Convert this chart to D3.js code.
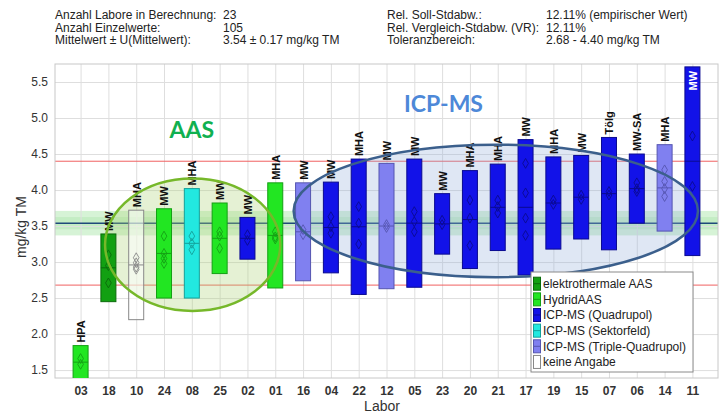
<!DOCTYPE html>
<html>
<head>
<meta charset="utf-8">
<script src="https://cdnjs.cloudflare.com/ajax/libs/d3/7.8.5/d3.min.js"></script>
<style>
  body { margin: 0; background: #fff; }
  text { font-family: "Liberation Sans", Arial, sans-serif; }
  .grid line { stroke: #dedede; }
  .grid path { display: none; }
</style>
</head>
<body>
<div id="chart"></div>
<script>
// labs in plotted order
var labs = ["03","18","10","24","08","25","02","01","16","04","22","12","05","23","20","21","17","19","15","07","06","14","11"];
var labMethod = ["H","E","K","H","S","H","Q","H","T","Q","Q","T","Q","Q","Q","Q","Q","Q","Q","Q","Q","T","Q"];
var labMean = [1.61,2.92,2.96,3.12,3.26,3.33,3.33,3.37,3.42,3.48,3.49,3.50,3.54,3.53,3.59,3.76,3.76,3.82,3.90,3.95,4.02,4.03,4.40];
var labU    = [0.23,0.47,0.76,0.62,0.76,0.49,0.29,0.73,0.68,0.63,0.94,0.87,0.89,0.42,0.68,0.60,0.94,0.64,0.58,0.78,0.48,0.60,1.31];
var labTag  = ["HPA","MW","MHA","MW","MHA","MW","MW","MHA","MW","MW","MHA","MW","MW","MW","MHA","MHA","MW","MHA","MW","Tölg","MW-SA","MHA","MW"];
var labValues = [
  [1.66,1.58],[3.10,2.71,2.95],[3.06,2.99,2.93,2.90],[3.36,3.12,3.05,2.98],
  [3.36,3.26,3.17],[3.42,3.36,3.19],[3.38,3.30],[3.42,3.35,3.32],
  [3.45,3.38],[3.63,3.49,3.40],[3.77,3.54,3.25],[3.52,3.48],
  [3.70,3.56,3.42],[3.58,3.52],[3.86,3.61,3.23],[3.86,3.77,3.68],
  [4.37,3.96,3.61,3.37],[3.86,3.80],[3.93,3.87],[3.98,3.93],
  [4.10,4.02,3.98],[4.28,4.12,4.02,3.91],[4.75,4.05]
];

var methodKeys  = ["E","H","Q","S","T","K"];
var methodNames = ["elektrothermale AAS","HydridAAS","ICP-MS (Quadrupol)","ICP-MS (Sektorfeld)","ICP-MS (Triple-Quadrupol)","keine Angabe"];

var yTicks = [1.5,2.0,2.5,3.0,3.5,4.0,4.5,5.0,5.5];
var meanValue = 3.54, meanU = 0.17, tolLow = 2.68, tolHigh = 4.40;

var headLeft   = ["Anzahl  Labore in Berechnung:","Anzahl  Einzelwerte:","Mittelwert ± U(Mittelwert):"];
var headLeftV  = ["23","105","3.54 ± 0.17 mg/kg TM"];
var headRight  = ["Rel. Soll-Stdabw.:","Rel. Vergleich-Stdabw. (VR):","Toleranzbereich:"];
var headRightV = ["12.11% (empirischer Wert)","12.11%","2.68 - 4.40 mg/kg TM"];

// annotation ellipses: centre lab, offset in steps, half width in steps, centre value, half height in value
var groupNames  = ["AAS","ICP-MS"];
var groupLab    = ["08","21"];
var groupShift  = [0.03,-0.07];
var groupRx     = [3.15,7.27];
var groupCy     = [3.24,3.71];
var groupRy     = [0.92,0.92];
var groupLabelAt = [[4.72,"08"],[5.08,"23"]];

var methodColor = {E:"#12a012", H:"#22e622", Q:"#1212e8", S:"#22e8e0", T:"#8080f0", K:"rgba(255,255,255,0.55)"};
var methodStroke = {E:"#0a6a0a", H:"#14a014", Q:"#0a0a90", S:"#14a09a", T:"#5555b0", K:"#888888"};

var w = 723, h = 416;
var pl = 55, pr = 718, pt = 64, pb = 378;

var xScale = d3.scalePoint().domain(labs).range([pl, pr]).padding(0.92);
var yScale = d3.scaleLinear().domain([1.39, 5.75]).range([pb, pt]);
var step = xScale.step();
var barW = 15;

var svg = d3.select("#chart").append("svg")
  .attr("width", w).attr("height", h);

svg.append("defs").append("clipPath").attr("id", "plotClip")
  .append("rect").attr("x", pl).attr("y", pt).attr("width", pr - pl).attr("height", pb - pt);

// header
var head = svg.append("g").style("font-size", "12px").attr("fill", "#222");
headLeft.forEach(function(t, i) {
  head.append("text").attr("x", 55).attr("y", 19 + i * 12.5).text(t);
  head.append("text").attr("x", 223).attr("y", 19 + i * 12.5).text(headLeftV[i]);
  head.append("text").attr("x", 387).attr("y", 19 + i * 12.5).text(headRight[i]);
  head.append("text").attr("x", 546).attr("y", 19 + i * 12.5).text(headRightV[i]);
});

// tolerance band around the mean
svg.append("rect").attr("x", pl).attr("width", pr - pl)
  .attr("y", yScale(meanValue + meanU)).attr("height", yScale(meanValue - meanU) - yScale(meanValue + meanU))
  .attr("fill", "#d6f3d6");
svg.append("rect").attr("x", pl).attr("width", pr - pl)
  .attr("y", yScale(meanValue + meanU / 2)).attr("height", yScale(meanValue - meanU / 2) - yScale(meanValue + meanU / 2))
  .attr("fill", "#c4edc4");

// grid
svg.append("g").attr("class", "grid")
  .attr("transform", "translate(" + pl + ",0)")
  .call(d3.axisLeft(yScale).tickValues(yTicks).tickSize(-(pr - pl)).tickFormat(""));
svg.append("g").attr("class", "grid")
  .attr("transform", "translate(0," + pb + ")")
  .call(d3.axisBottom(xScale).tickSize(-(pb - pt)).tickFormat(""));

// tolerance limits and mean
[tolLow, tolHigh].forEach(function(v) {
  svg.append("line").attr("x1", pl).attr("x2", pr).attr("y1", yScale(v)).attr("y2", yScale(v))
    .attr("stroke", "#f06060").attr("stroke-width", 1);
});
svg.append("line").attr("x1", pl).attr("x2", pr).attr("y1", yScale(meanValue)).attr("y2", yScale(meanValue))
  .attr("stroke", "#1f4a7a").attr("stroke-width", 1.5);

// frame
svg.append("rect").attr("x", pl).attr("y", pt).attr("width", pr - pl).attr("height", pb - pt)
  .attr("fill", "none").attr("stroke", "#c8c8c8");

// group ellipses (fill behind the bars, outline on top)
var groupFill = ["rgba(175,210,120,0.32)", "rgba(150,175,220,0.30)"];
var groupStroke = ["#76b82a", "#3b5f8c"];
var groupText = ["#10b050", "#4d88d8"];
function ellipse(i) {
  return svg.append("ellipse")
    .attr("cx", xScale(groupLab[i]) + groupShift[i] * step)
    .attr("cy", yScale(groupCy[i]))
    .attr("rx", groupRx[i] * step)
    .attr("ry", yScale(0) - yScale(groupRy[i]));
}
groupNames.forEach(function(g, i) {
  ellipse(i).attr("fill", groupFill[i]).attr("stroke", "none");
});

// bars
var bars = svg.append("g").attr("clip-path", "url(#plotClip)");
labs.forEach(function(lab, i) {
  var m = labMethod[i];
  var cx = xScale(lab);
  var top = labMean[i] + labU[i], bot = labMean[i] - labU[i];
  bars.append("rect")
    .attr("x", cx - barW / 2).attr("width", barW)
    .attr("y", yScale(top)).attr("height", yScale(bot) - yScale(top))
    .attr("fill", methodColor[m]).attr("stroke", methodStroke[m]).attr("stroke-width", 1);
  bars.append("line")
    .attr("x1", cx - barW / 2).attr("x2", cx + barW / 2)
    .attr("y1", yScale(labMean[i])).attr("y2", yScale(labMean[i]))
    .attr("stroke", methodStroke[m]).attr("stroke-width", 1);
  bars.selectAll(null).data(labValues[i]).enter().append("path")
    .attr("d", d3.symbol(d3.symbolDiamond, 28))
    .attr("transform", function(v) { return "translate(" + cx + "," + yScale(v) + ")"; })
    .attr("fill", "none").attr("stroke", methodStroke[m]).attr("stroke-width", 0.9);

  var inside = yScale(top) - 24 < pt;
  svg.append("text")
    .attr("transform", "translate(" + (cx + 0.5) + "," + (inside ? yScale(top) + 4 : yScale(top) - 3) + ") rotate(-90)")
    .attr("dy", "0.36em")
    .attr("text-anchor", inside ? "end" : "start")
    .style("font-size", "11px").style("font-weight", "bold")
    .attr("fill", inside ? "#fff" : "#111")
    .text(labTag[i]);
});

groupNames.forEach(function(g, i) {
  ellipse(i).attr("fill", "none").attr("stroke", groupStroke[i]).attr("stroke-width", 2.5);
  svg.append("text")
    .attr("x", xScale(groupLabelAt[i][1]) + (i == 0 ? 0 : 0.05 * step))
    .attr("y", yScale(groupLabelAt[i][0]))
    .attr("text-anchor", "middle")
    .style("font-family", "Lato, 'Open Sans', sans-serif")
    .style("font-size", "23px").style("font-weight", "bold")
    .attr("fill", groupText[i])
    .text(g);
});

// axes
var yAxis = svg.append("g").attr("transform", "translate(" + pl + ",0)")
  .call(d3.axisLeft(yScale).tickValues(yTicks).tickSize(0).tickPadding(7).tickFormat(d3.format(".1f")));
yAxis.select(".domain").remove();
yAxis.selectAll("text").style("font-size", "12px").attr("fill", "#333");

var xAxis = svg.append("g").attr("transform", "translate(0," + pb + ")")
  .call(d3.axisBottom(xScale).tickSize(0).tickPadding(8));
xAxis.select(".domain").remove();
xAxis.selectAll("text").style("font-size", "12px").style("font-weight", "bold").attr("fill", "#333");

svg.append("text").attr("x", (pl + pr) / 2 - 4.5).attr("y", 411).attr("text-anchor", "middle")
  .style("font-size", "14px").attr("fill", "#333").text("Labor");
svg.append("text").attr("transform", "translate(26,227) rotate(-90)").attr("text-anchor", "middle")
  .style("font-size", "14px").attr("fill", "#333").text("mg/kg TM");

// legend
var leg = svg.append("g").attr("transform", "translate(531,272)");
leg.append("rect").attr("width", 162).attr("height", 100).attr("fill", "#fff").attr("stroke", "#8a8a8a");
methodKeys.forEach(function(k, i) {
  var yy = 11.7 + i * 15.65;
  leg.append("rect").attr("x", 2.5).attr("y", yy - 6.5).attr("width", 7).attr("height", 13)
    .attr("fill", k == "K" ? "#fff" : methodColor[k]).attr("stroke", methodStroke[k]);
  if (k != "K") {
    leg.append("line").attr("x1", 2.5).attr("x2", 9.5).attr("y1", yy).attr("y2", yy).attr("stroke", methodStroke[k]);
  }
  leg.append("text").attr("x", 12).attr("y", yy).attr("dy", "0.36em")
    .style("font-size", "12px").attr("fill", "#222").text(methodNames[i]);
});
</script>
</body>
</html>
